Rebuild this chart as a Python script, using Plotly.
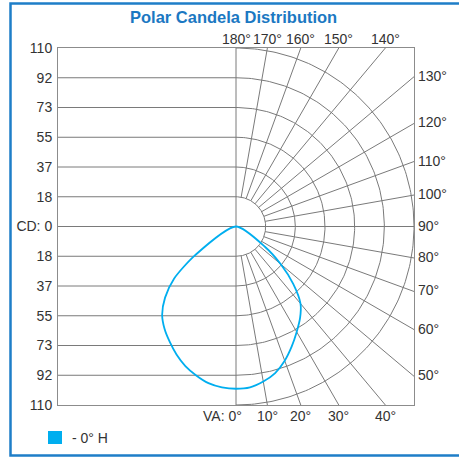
import numpy as np
import plotly.graph_objects as go

# ---------------- data ----------------
cd_max = 110
cd_ticks = [110, 92, 73, 55, 37, 18, 0]          # labels shown on left axis
grid_angles = list(range(0, 181, 10))             # vertical angles of radial grid
va_angles = [0, 5, 10, 15, 20, 25, 30, 35, 40, 45, 50, 55, 60]
cd_right = [100, 99.5, 97, 93.5, 88, 81.5, 75, 69, 62, 50, 36, 22, 0]    # 0° H plane
cd_left = [100, 99.5, 98, 95, 91.5, 87, 82, 77, 71, 62, 50, 31, 0]      # mirrored half
legend_label = "- 0° H"
title_text = "Polar Candela Distribution"

GRID = "#7a7a7a"
TXT = "#333333"
CURVE = "#00AEEF"
FONT = "Liberation Sans, Arial, sans-serif"

fig = go.Figure()

step = cd_max / 6
levels = [step * k for k in range(1, 7)]

# left-half horizontal grid lines
for lv in levels[:-1]:
    for s in (1, -1):
        fig.add_trace(go.Scatter(x=[-cd_max, 0], y=[s * lv, s * lv], mode="lines",
                                 line=dict(color=GRID, width=1), hoverinfo="skip", showlegend=False))
# centre horizontal and vertical lines
fig.add_trace(go.Scatter(x=[-cd_max, cd_max], y=[0, 0], mode="lines",
                         line=dict(color=GRID, width=1), hoverinfo="skip", showlegend=False))
fig.add_trace(go.Scatter(x=[0, 0], y=[-cd_max, cd_max], mode="lines",
                         line=dict(color=GRID, width=1), hoverinfo="skip", showlegend=False))

# semicircles on the right half
th = np.radians(np.linspace(0, 180, 181))
for lv in levels:
    fig.add_trace(go.Scatter(x=lv * np.sin(th), y=-lv * np.cos(th), mode="lines",
                             line=dict(color=GRID, width=1), hoverinfo="skip", showlegend=False))

# radial lines from inner circle to frame
annots = []
for a in grid_angles:
    r = np.radians(a)
    sx, sy = np.sin(r), -np.cos(r)
    if a not in (0, 90, 180):
        t = cd_max / max(abs(sx), abs(sy))
        fig.add_trace(go.Scatter(x=[levels[0] * sx, t * sx], y=[levels[0] * sy, t * sy], mode="lines",
                                 line=dict(color=GRID, width=1), hoverinfo="skip", showlegend=False))
    t = cd_max / max(abs(sx), abs(sy))
    ex, ey = t * sx, t * sy
    lab = f"{a}°"
    if a < 45:
        if a == 0:
            annots.append(dict(x=0, y=-cd_max, text="VA: 0°", xanchor="right", yanchor="top",
                               xshift=8, yshift=-1, showarrow=False))
        else:
            annots.append(dict(x=ex, y=-cd_max, text=lab, xanchor="center", yanchor="top",
                               yshift=-1, showarrow=False))
    elif a <= 135:
        annots.append(dict(x=cd_max, y=ey, text=lab, xanchor="left", yanchor="middle",
                           xshift=2, yshift=1, showarrow=False))
    else:
        annots.append(dict(x=ex, y=cd_max, text=lab, xanchor="center", yanchor="bottom",
                           yshift=-1, showarrow=False))

# candela curve
la = np.radians(va_angles)
xl = [-c * np.sin(a) for c, a in zip(cd_left, la)]
yl = [-c * np.cos(a) for c, a in zip(cd_left, la)]
xr = [c * np.sin(a) for c, a in zip(cd_right, la)]
yr = [-c * np.cos(a) for c, a in zip(cd_right, la)]
cx = xl[::-1] + xr[1:]
cy = yl[::-1] + yr[1:]
fig.add_trace(go.Scatter(x=cx, y=cy, mode="lines", name=legend_label,
                         line=dict(color=CURVE, width=1.8, shape="spline", smoothing=0.7),
                         showlegend=False))

# y tick labels
yvals = [step * k for k in range(6, -7, -1)]
ytext = [str(v) for v in cd_ticks[:-1]] + ["CD: 0"] + [str(v) for v in cd_ticks[-2::-1]]

for an in annots:
    an["font"] = dict(family=FONT, size=14, color=TXT)

# paper-coordinate helpers (pixel -> paper)
L, T, W, H = 58, 48, 356, 357
def px(x):
    return (x - L) / W
def py(y):
    return (T + H - y) / H

# title
annots.append(dict(x=px(233), y=py(17), xref="paper", yref="paper", text=f"<b>{title_text}</b>",
                   showarrow=False, xanchor="center", yanchor="middle",
                   font=dict(family=FONT, size=16.5, color="#1B78C2")))

# legend
annots.append(dict(x=px(70), y=py(438), xref="paper", yref="paper", text=legend_label, showarrow=False,
                   xanchor="left", yanchor="middle", font=dict(family=FONT, size=14, color=TXT)))

shapes = [
    dict(type="rect", xref="paper", yref="paper", x0=px(48), x1=px(62), y0=py(444), y1=py(431),
         fillcolor=CURVE, line=dict(width=0)),
    dict(type="rect", xref="paper", yref="paper", x0=px(10.5), x1=px(470), y0=py(455.5), y1=py(3.5),
         line=dict(color="#1E7EC8", width=2.5), fillcolor="rgba(0,0,0,0)"),
]

fig.update_layout(
    width=459, height=457,
    margin=dict(l=L, r=459 - L - W, t=T, b=457 - T - H),
    paper_bgcolor="white", plot_bgcolor="white",
    showlegend=False,
    annotations=annots, shapes=shapes,
    xaxis=dict(range=[-cd_max, cd_max], showgrid=False, zeroline=False, showticklabels=False,
               showline=True, mirror=True, linecolor="#8c8c8c", linewidth=1, fixedrange=True),
    yaxis=dict(range=[-cd_max, cd_max], showgrid=False, zeroline=False,
               tickvals=yvals, ticktext=ytext, ticks="", ticklabelstandoff=2,
               tickfont=dict(family=FONT, size=14, color=TXT),
               showline=True, mirror=True, linecolor="#8c8c8c", linewidth=1, fixedrange=True),
)

fig.write_html("out.html", config={"displayModeBar": False},
               post_script="document.body.style.margin='0';document.body.style.overflow='hidden';")
